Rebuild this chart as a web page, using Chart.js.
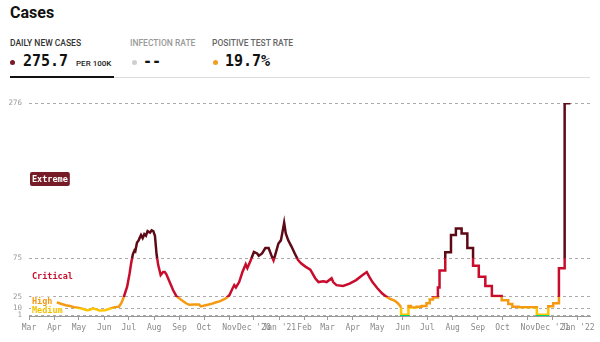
<!DOCTYPE html>
<html>
<head>
<meta charset="utf-8">
<script src="https://cdn.jsdelivr.net/npm/chart.js@4.4.1/dist/chart.umd.min.js"></script>
<style>
  html, body { margin: 0; padding: 0; background: #fff; }
  body { width: 600px; height: 342px; position: relative; overflow: hidden; font-family: Roboto, sans-serif; }
  .abs { position: absolute; white-space: nowrap; }
  #title { left: 10px; top: 5px; font-size: 16px; line-height: 16px; font-weight: 700; color: #111; }
  .tab { top: 38px; font-size: 8.5px; line-height: 10px; font-weight: 500; }
  .val { top: 54px; font-family: "DejaVu Sans Mono", monospace; font-weight: 700; font-size: 15px; line-height: 15px; color: #111; }
  .unit { top: 59px; font-size: 8px; line-height: 10px; font-weight: 500; color: #222; }
  .dot { width: 5px; height: 5px; border-radius: 50%; top: 60px; }
  #chartBox { position: absolute; left: 0; top: 90px; width: 600px; height: 252px; }
</style>
</head>
<body>
<div id="title" class="abs">Cases</div>

<div class="abs tab" style="left:10px;color:#333">DAILY NEW CASES</div>
<div class="abs tab" style="left:130px;color:#999">INFECTION RATE</div>
<div class="abs tab" style="left:212px;color:#666">POSITIVE TEST RATE</div>

<div class="abs dot" style="left:10px;background:#7a1a25"></div>
<div class="abs val" style="left:23px">275.7</div>
<div class="abs unit" style="left:76px">PER 100K</div>

<div class="abs dot" style="left:132px;background:#cfcfcf"></div>
<div class="abs val" style="left:143px">--</div>

<div class="abs dot" style="left:213px;background:#f0a020"></div>
<div class="abs val" style="left:225px">19.7%</div>

<div class="abs" style="left:10px;top:77px;width:580px;height:1px;background:#ddd"></div>
<div class="abs" style="left:10px;top:76px;width:104px;height:2px;background:#111"></div>

<div id="chartBox"><canvas id="casesChart"></canvas></div>

<script>
// daily new cases per 100K, smooth part
const dailyDates = [
  '2020-04-04','2020-04-10','2020-04-15','2020-04-20','2020-04-25','2020-05-01','2020-05-06','2020-05-11',
  '2020-05-15','2020-05-18','2020-05-22','2020-05-26','2020-06-02','2020-06-08','2020-06-14','2020-06-19',
  '2020-06-22','2020-06-25','2020-06-29','2020-07-02','2020-07-04','2020-07-06','2020-07-08','2020-07-09',
  '2020-07-11','2020-07-13','2020-07-16','2020-07-18','2020-07-20','2020-07-22','2020-07-24','2020-07-27',
  '2020-07-29','2020-07-31','2020-08-02','2020-08-04','2020-08-06','2020-08-09','2020-08-12','2020-08-14',
  '2020-08-16','2020-08-20','2020-08-24','2020-08-28','2020-09-03','2020-09-09','2020-09-13','2020-09-19',
  '2020-09-25','2020-09-27','2020-10-03','2020-10-07','2020-10-11','2020-10-15','2020-10-20','2020-10-24',
  '2020-10-28','2020-11-01','2020-11-05','2020-11-07','2020-11-09','2020-11-13','2020-11-17','2020-11-21',
  '2020-11-23','2020-11-27','2020-12-01','2020-12-05','2020-12-07','2020-12-11','2020-12-15','2020-12-19',
  '2020-12-23','2020-12-25','2020-12-27','2020-12-31','2021-01-03','2021-01-05','2021-01-07','2021-01-09',
  '2021-01-12','2021-01-16','2021-01-20','2021-01-24','2021-01-28','2021-02-02','2021-02-08','2021-02-14',
  '2021-02-18','2021-02-24','2021-02-28','2021-03-06','2021-03-08','2021-03-12','2021-03-20','2021-03-28',
  '2021-04-05','2021-04-13','2021-04-18','2021-04-21','2021-04-25','2021-05-01','2021-05-07','2021-05-12',
  '2021-05-17','2021-05-22','2021-05-26','2021-05-30'
];
const dailyValues = [
  17.7, 15.5, 14, 13, 11.5, 10.5, 9, 7.5,
  8, 10, 8.5, 7, 7.5, 9.5, 11.5, 12,
  17, 25, 38, 55, 69, 80, 85, 84,
  95, 98, 105, 101, 106, 104, 110, 108,
  111, 110, 104, 80, 66, 53, 57, 57,
  54, 44, 34, 26, 21, 16.5, 14.5, 15,
  15, 12.5, 14, 15, 16, 17.5, 19, 21,
  23, 27, 36, 40, 37, 44, 57, 67,
  62, 72, 83, 81, 78, 81, 88, 88,
  77, 72, 79, 94, 98, 109, 121, 107,
  98, 90, 81, 72.5, 68, 64, 60, 49,
  44, 45, 44, 49, 44, 40, 39, 42,
  46.5, 53, 57, 51, 44, 36, 29, 25,
  22, 20, 16.5, 11.5
];

// weekly updates from June 2021 (drawn as steps)
const weeklyDates = [
  '2021-05-30','2021-06-08','2021-06-11','2021-06-18','2021-06-24','2021-06-30','2021-07-04','2021-07-08',
  '2021-07-14','2021-07-16','2021-07-23','2021-07-30','2021-08-05','2021-08-12','2021-08-19','2021-08-26',
  '2021-09-02','2021-09-10','2021-09-18','2021-09-30','2021-10-08','2021-10-13','2021-10-21','2021-11-02',
  '2021-11-12','2021-11-26','2021-12-02','2021-12-09','2021-12-16','2021-12-23'
];
const weeklyValues = [
  11.5, 1.5, 13, 11, 12, 13, 16.5, 21.5,
  24, 37, 59, 82.5, 105, 113.5, 107, 88,
  65, 51, 39, 26, 20.5, 15.5, 12, 11.5,
  11.5, 1.5, 12.5, 16.5, 62, 275.7
];

// risk zones
const zoneNames = ['Low', 'Medium', 'High', 'Critical', 'Extreme'];
const zoneLimits = [0, 1, 10, 25, 75, 276];
const zoneColors = ['#00d474', '#ffc400', '#f59a10', '#c80c2c', '#5e0a16'];
const zoneTextColors = ['#00d474', '#f2c200', '#f09a18', '#c8102e', '#ffffff'];

// axes
const yTickValues = [1, 10, 25, 75, 276];
const xStart = '2020-03-01';
const xEnd = '2022-01-16';
const monthTicks = [
  '2020-03-01','2020-04-01','2020-05-01','2020-06-01','2020-07-01','2020-08-01','2020-09-01','2020-10-01',
  '2020-11-01','2020-12-01','2021-01-01','2021-02-01','2021-03-01','2021-04-01','2021-05-01','2021-06-01',
  '2021-07-01','2021-08-01','2021-09-01','2021-10-01','2021-11-01','2021-12-01','2022-01-01'
];
const monthLabels = [
  'Mar','Apr','May','Jun','Jul','Aug','Sep','Oct',
  'Nov',"Dec '20","Jan '21",'Feb','Mar','Apr','May','Jun',
  'Jul','Aug','Sep','Oct','Nov',"Dec '21","Jan '22"
];

const dayOf = s => (Date.parse(s) - Date.parse(xStart)) / 86400000;
const toPoints = (dates, values) => dates.map((d, i) => ({ x: dayOf(d), y: values[i] }));
const yMax = zoneLimits[zoneLimits.length - 1];
const mono = '"DejaVu Sans Mono", monospace';

function zoneGradient(context) {
  const chart = context.chart;
  if (!chart.chartArea) return zoneColors[3];
  const y = chart.scales.y;
  const g = chart.ctx.createLinearGradient(0, y.getPixelForValue(0), 0, y.getPixelForValue(yMax));
  for (let i = 0; i < zoneColors.length; i++) {
    g.addColorStop(zoneLimits[i] / yMax, zoneColors[i]);
    g.addColorStop(zoneLimits[i + 1] / yMax, zoneColors[i]);
  }
  return g;
}

// zone names on the left of the plot
const zoneLabels = {
  id: 'zoneLabels',
  beforeDatasetsDraw(chart) {
    const { ctx, chartArea, scales: { y } } = chart;
    ctx.save();
    ctx.font = 'bold 8.5px ' + mono;
    ctx.textBaseline = 'middle';
    for (let i = 1; i < zoneNames.length; i++) {
      const py = y.getPixelForValue((zoneLimits[i] + zoneLimits[i + 1]) / 2) - 1.5;
      const x = chartArea.left + 3;
      const w = ctx.measureText(zoneNames[i]).width;
      if (i === zoneNames.length - 1) {
        ctx.fillStyle = '#761c26';
        ctx.beginPath();
        ctx.roundRect(x - 2, py - 7, w + 4, 14, 2);
        ctx.fill();
      } else {
        ctx.fillStyle = '#fff';
        ctx.fillRect(x - 1, py - 4.5, w + 2, 9);
      }
      ctx.fillStyle = zoneTextColors[i];
      ctx.fillText(zoneNames[i], x, py + 0.5);
    }
    ctx.restore();
  }
};

const lineStyle = {
  borderColor: zoneGradient,
  borderWidth: 2.5,
  pointRadius: 0,
  tension: 0,
  fill: false
};

new Chart(document.getElementById('casesChart'), {
  type: 'line',
  data: {
    datasets: [
      Object.assign({ label: 'Daily new cases', data: toPoints(dailyDates, dailyValues) }, lineStyle),
      Object.assign({ label: 'Daily new cases (weekly)', data: toPoints(weeklyDates, weeklyValues), stepped: 'after' }, lineStyle)
    ]
  },
  options: {
    responsive: true,
    maintainAspectRatio: false,
    animation: false,
    layout: { padding: { top: 13, right: 10, left: 0, bottom: 0 } },
    plugins: { legend: { display: false }, tooltip: { enabled: false } },
    scales: {
      x: {
        type: 'linear',
        min: dayOf(xStart),
        max: dayOf(xEnd),
        afterBuildTicks: axis => { axis.ticks = monthTicks.map(d => ({ value: dayOf(d) })); },
        afterFit: axis => { axis.height = 26; axis.paddingLeft = 0; axis.paddingRight = 0; },
        ticks: {
          autoSkip: false,
          maxRotation: 0,
          padding: 3,
          color: '#888',
          font: { family: mono, size: 8 },
          callback: (v, i) => monthLabels[i]
        },
        grid: { drawOnChartArea: false, drawTicks: true, tickLength: 4, color: '#999' },
        border: { display: true, color: '#999', width: 1 }
      },
      y: {
        min: 0,
        max: yMax,
        afterBuildTicks: axis => { axis.ticks = yTickValues.map(v => ({ value: v })); },
        afterFit: axis => { axis.width = 29; },
        ticks: {
          padding: 7,
          color: '#999',
          font: { family: mono, size: 7.5 }
        },
        grid: { drawTicks: false, color: '#aaa', lineWidth: 1 },
        border: { display: false, dash: [3, 3] }
      }
    }
  },
  plugins: [zoneLabels]
});
</script>
</body>
</html>
